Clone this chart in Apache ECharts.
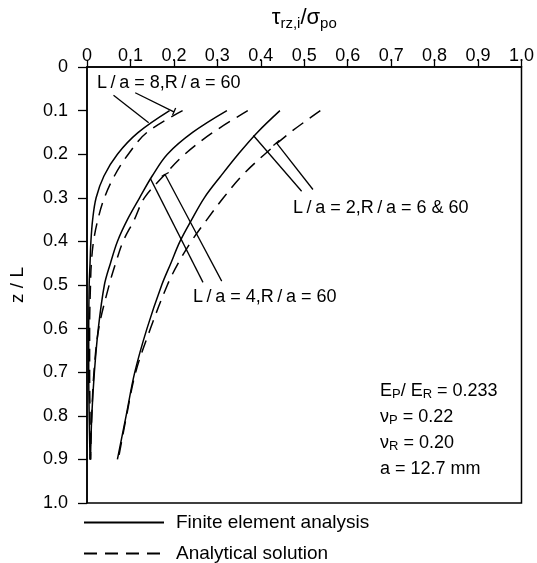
<!DOCTYPE html>
<html><head><meta charset="utf-8">
<script src="https://cdn.jsdelivr.net/npm/echarts@6/dist/echarts.min.js"></script>
<style>html,body{margin:0;padding:0;background:#fff}#c{width:537px;height:563px}</style>
</head><body><div id="c"></div>
<script>
// ---- data ----
const xTickLabels = ['0','0.1','0.2','0.3','0.4','0.5','0.6','0.7','0.8','0.9','1.0'];
const yTickLabels = ['0','0.1','0.2','0.3','0.4','0.5','0.6','0.7','0.8','0.9','1.0'];
const zLevels   = [0.1, 0.15, 0.2, 0.25, 0.3, 0.35, 0.4, 0.45, 0.5, 0.6, 0.7, 0.8, 0.9];
// tau_rz,i / sigma_po
const feL8  = [0.190, 0.118, 0.070, 0.039, 0.021, 0.013, 0.009, 0.007, 0.005, 0.004, 0.004, 0.005, 0.007];
const anL8  = [0.220, 0.138, 0.095, 0.063, 0.040, 0.025, 0.015, 0.010, 0.008, 0.006, 0.006, 0.007, 0.008];
const feL4  = [0.322, 0.243, 0.185, 0.150, 0.121, 0.093, 0.070, 0.054, 0.040, 0.026, 0.017, 0.011, 0.008];
const anL4  = [0.370, 0.290, 0.225, 0.176, 0.132, 0.109, 0.083, 0.066, 0.051, 0.027, 0.016, 0.011, 0.008];
const feL2  = [0.444, 0.392, 0.348, 0.308, 0.270, 0.241, 0.214, 0.193, 0.172, 0.138, 0.110, 0.090, 0.070];
const anL2  = [0.537, 0.468, 0.409, 0.356, 0.314, 0.276, 0.240, 0.210, 0.185, 0.146, 0.112, 0.091, 0.072];
// leader lines [x, z]
const leader8a = [[0.061, 0.065], [0.142, 0.128]];
const leader8b = [[0.111, 0.059], [0.200, 0.103]];
const tick8b   = [[0.197, 0.110], [0.204, 0.094]];
const leader4a = [[0.146, 0.256], [0.267, 0.494]];
const leader4b = [[0.180, 0.247], [0.310, 0.491]];
const tick4b   = [[0.188, 0.242], [0.172, 0.251]];
const leader2a = [[0.383, 0.157], [0.494, 0.285]];
const leader2b = [[0.436, 0.174], [0.520, 0.281]];
const tick2b   = [[0.443, 0.168], [0.429, 0.180]];

const FE = 'Finite element analysis';
const AN = 'Analytical solution';
const FONT = 'Liberation Sans';

function pairs(xs){ return xs.map((v,i)=>[v, zLevels[i]]); }
function curve(name, xs, dashed){
  return {type:'line', name, data:pairs(xs), symbol:'none', smooth:0.35, silent:true,
    lineStyle:{color:'#000', width:1.5, type: dashed ? [13,8] : 'solid'}, itemStyle:{color:'#000', opacity:0}};
}
function seg(d){
  return {type:'line', name:'leader', data:d, symbol:'none', silent:true,
    lineStyle:{color:'#000', width:1.3}, itemStyle:{color:'#000'}};
}
function legendFor(name, top){
  return {data:[name], orient:'horizontal', left:83, top, padding:0, itemWidth:80, itemHeight:14,
    selectedMode:false, itemStyle:{opacity:0},
    textStyle:{fontFamily:FONT, fontSize:19, color:'#000', padding:[0,0,0,7]}};
}

const chart = echarts.init(document.getElementById('c'), null, {renderer:'canvas'});
const txt = {fontFamily:FONT, fontSize:18, color:'#000'};
chart.setOption({
  animation:false,
  backgroundColor:'#fff',
  grid:{left:86, right:14, top:67, bottom:60, show:true, borderColor:'#000', borderWidth:1.5},
  xAxis:{type:'value', position:'top', min:0, max:1, interval:0.1,
    axisLine:{show:true, onZero:false, lineStyle:{color:'#000', width:1.5}},
    axisTick:{show:true, length:7, lineStyle:{color:'#000', width:1.3}},
    axisLabel:Object.assign({margin:2, formatter:v=>xTickLabels[Math.round(v*10)]}, txt),
    splitLine:{show:false},
    name:'{g|τ}{s|rz,i}{g|/σ}{s|po}', nameLocation:'middle', nameGap:36,
    nameTextStyle:{rich:{g:{fontFamily:FONT, fontSize:22, color:'#000', lineHeight:26},
                         s:{fontFamily:FONT, fontSize:15, color:'#000', lineHeight:15, verticalAlign:'bottom'}}}},
  yAxis:{type:'value', inverse:true, min:0, max:1, interval:0.1,
    axisLine:{show:true, onZero:false, lineStyle:{color:'#000', width:1.5}},
    axisTick:{show:true, length:9, lineStyle:{color:'#000', width:1.3}},
    axisLabel:Object.assign({margin:19, formatter:v=>yTickLabels[Math.round(v*10)]}, txt),
    splitLine:{show:false},
    name:'z / L', nameLocation:'middle', nameGap:60, nameTextStyle:{fontFamily:FONT, fontSize:19, color:'#000'}},
  legend:[legendFor(FE, 513), legendFor(AN, 544)],
  series:[
    curve(FE, feL8, false), curve(AN, anL8, true),
    curve(FE, feL4, false), curve(AN, anL4, true),
    curve(FE, feL2, false), curve(AN, anL2, true),
    seg(leader8a), seg(leader8b), seg(tick8b),
    seg(leader4a), seg(leader4b), seg(tick4b),
    seg(leader2a), seg(leader2b), seg(tick2b)
  ],
  graphic:[
    {type:'text', x:97, y:83, style:{text:'L\u2009/\u2009a = 8,R\u2009/\u2009a = 60', fill:'#000', font:'18px "Liberation Sans"', verticalAlign:'middle'}},
    {type:'text', x:293, y:208, style:{text:'L\u2009/\u2009a = 2,R\u2009/\u2009a = 6 & 60', fill:'#000', font:'18px "Liberation Sans"', verticalAlign:'middle'}},
    {type:'text', x:193, y:297, style:{text:'L\u2009/\u2009a = 4,R\u2009/\u2009a = 60', fill:'#000', font:'18px "Liberation Sans"', verticalAlign:'middle'}},
    {type:'text', x:380, y:378, style:{
      text:'{m|E}{s|P}{m|/ E}{s|R}{m| = 0.233}\n{m|ν}{s|P}{m| = 0.22}\n{m|ν}{s|R}{m| = 0.20}\n{m|a = 12.7 mm}',
      verticalAlign:'top',
      rich:{m:{fontFamily:FONT, fontSize:18, fill:'#000', color:'#000', lineHeight:26},
            s:{fontFamily:FONT, fontSize:13, fill:'#000', color:'#000', lineHeight:14, verticalAlign:'bottom', padding:[0,0,3,0]}}}}
  ]
});
</script></body></html>
